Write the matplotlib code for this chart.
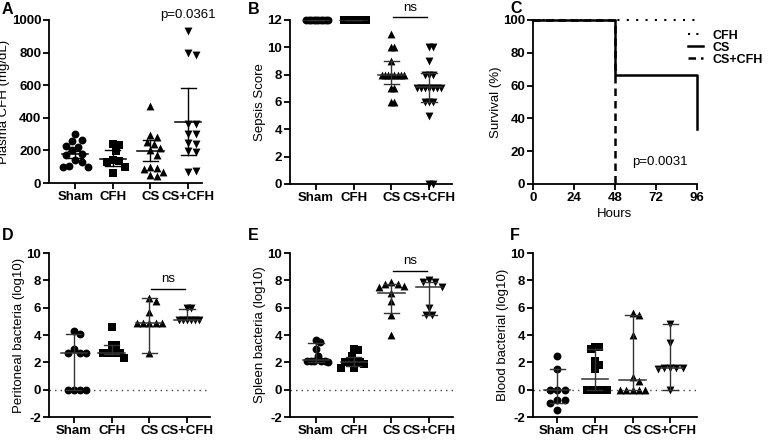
import numpy as np
import matplotlib
matplotlib.use('Agg')
import matplotlib.pyplot as plt
from matplotlib.lines import Line2D

plt.rcParams['font.family'] = ['Liberation Sans', 'DejaVu Sans']
plt.rcParams['font.weight'] = 'bold'
plt.rcParams['font.size'] = 9
plt.rcParams['axes.unicode_minus'] = False

groups = ['Sham', 'CFH', 'CS', 'CS+CFH']
markers = ['o', 's', '^', 'v']

# A - plasma CFH (mg/dL)
cfh_vals = [
    [300, 265, 255, 230, 220, 200, 180, 170, 140, 130, 105, 100, 100],
    [240, 235, 195, 140, 135, 130, 100, 60],
    [475, 295, 285, 250, 240, 215, 200, 170, 100, 95, 85, 70, 50, 45],
    [935, 800, 785, 365, 365, 300, 300, 245, 240, 195, 190, 70, 75],
]
cfh_center = [175, 150, 198, 375]
cfh_low = [155, 105, 135, 170]
cfh_high = [195, 200, 265, 580]

# B - sepsis score
sepsis_vals = [
    [12] * 10,
    [12] * 10,
    [11, 10, 10, 9, 8, 8, 8, 8, 8, 8, 8, 8, 7, 7, 6, 6],
    [10, 10, 9, 8, 8, 8, 7, 7, 7, 7, 7, 7, 7, 6, 6, 6, 5, 0, 0],
]
sepsis_center = [12, 12, 8, 7.1]
sepsis_low = [12, 12, 7.3, 6.0]
sepsis_high = [12, 12, 9.0, 8.1]

# C - survival
hours = [0, 48, 96]
surv_cfh = [100, 100, 100]
surv_cs = [100, 66.7, 33.3]
hours_cscfh = [0, 48]
surv_cscfh = [100, 0]

# D - peritoneal bacteria (log10)
perit_vals = [
    [4.3, 4.1, 3.0, 2.7, 2.7, 2.7, 0, 0, 0, 0],
    [4.6, 3.3, 3.3, 2.7, 2.7, 2.7, 2.7, 2.7, 2.3],
    [6.7, 6.5, 5.7, 4.9, 4.9, 4.9, 4.9, 4.9, 2.7],
    [6.0, 6.0, 5.1, 5.1, 5.1, 5.1, 5.1, 5.1],
]
perit_center = [2.7, 2.7, 4.9, 5.1]
perit_low = [0, 2.6, 2.7, 5.1]
perit_high = [4.1, 3.3, 6.7, 5.9]

# E - spleen bacteria (log10)
spleen_vals = [
    [3.6, 3.5, 3.0, 2.5, 2.1, 2.1, 2.1, 2.1, 2.1, 2.0],
    [3.0, 2.9, 2.5, 2.1, 2.0, 2.0, 2.0, 1.9, 1.6, 1.6],
    [7.9, 7.7, 7.7, 7.6, 7.5, 7.1, 6.5, 5.5, 4.0],
    [8.0, 7.9, 7.9, 7.5, 6.0, 5.5, 5.5],
]
spleen_center = [2.2, 2.0, 7.1, 7.5]
spleen_low = [2.0, 1.7, 5.6, 5.5]
spleen_high = [3.4, 2.4, 7.7, 7.9]

# F - blood bacteria (log10)
blood_vals = [
    [2.5, 1.5, 0, 0, 0, -0.75, -0.75, -1.0, -1.5],
    [3.1, 3.1, 3.0, 2.1, 1.8, 1.5, 0, 0, 0, 0, 0, 0],
    [5.6, 5.5, 4.0, 0.9, 0.6, 0, 0, 0, 0, 0],
    [4.8, 3.4, 1.6, 1.6, 1.6, 1.6, 1.5, 0],
]
blood_center = [0, 0.75, 0.7, 1.6]
blood_low = [-1.0, 0, 0, 0]
blood_high = [1.5, 3.0, 5.5, 4.8]

W, H = 770, 441
fig = plt.figure(figsize=(W / 100, H / 100), dpi=100)


def add_ax(l, r, t, b):
    return fig.add_axes([l / W, (H - b) / H, (r - l) / W, (b - t) / H])


def style(ax):
    for s in ['top', 'right']:
        ax.spines[s].set_visible(False)
    for s in ['left', 'bottom']:
        ax.spines[s].set_linewidth(1.3)
    ax.tick_params(width=1.3, length=4, labelsize=9.5, pad=1.5)


def swarm(ax, xc, vals, d_px=7.5, max_half=0.33):
    tr = ax.transData
    ppu = tr.transform((1, 0))[0] - tr.transform((0, 0))[0]
    x0p = tr.transform((xc, 0))[0]
    placed = []
    for v in vals:
        yp = tr.transform((xc, v))[1]
        xp = x0p
        for k in range(80):
            cands = [0] if k == 0 else [k, -k]
            found = False
            for c in cands:
                xp = x0p + c * d_px * 0.5
                if all((xp - px) ** 2 + (yp - py) ** 2 >= d_px ** 2 for px, py in placed):
                    found = True
                    break
            if found:
                break
        placed.append((xp, yp))
    off = np.array([p[0] - x0p for p in placed])
    lim = max_half * ppu
    m = np.abs(off).max() if len(off) else 0
    if m > lim:
        off = off * lim / m
    return xc + off / ppu


def dot_panel(ax, vals, center, low, high, ylim, yticks, ylabel, xlim, lc='#333333'):
    style(ax)
    ax.set_xlim(*xlim)
    ax.set_ylim(*ylim)
    ax.set_yticks(yticks)
    ax.set_xticks(range(4))
    ax.set_xticklabels(groups)
    ax.set_ylabel(ylabel, fontsize=9.5, labelpad=1)
    for i, v in enumerate(vals):
        xs = swarm(ax, i, v)
        ax.scatter(xs, v, marker=markers[i], s=32, color='black', zorder=2,
                   clip_on=False, linewidths=0)
        ax.plot([i - 0.35, i + 0.35], [center[i]] * 2, color=lc, lw=1.1, zorder=3)
        ax.plot([i, i], [low[i], high[i]], color=lc, lw=1, zorder=3)
        ax.plot([i - 0.2, i + 0.2], [low[i]] * 2, color=lc, lw=1, zorder=3)
        ax.plot([i - 0.2, i + 0.2], [high[i]] * 2, color=lc, lw=1, zorder=3)


def ns_bar(ax, y, ty):
    ax.plot([2.05, 2.95], [y, y], color='black', lw=1, clip_on=False)
    ax.text(2.5, ty, 'ns', ha='center', va='center', fontsize=9.5,
            fontweight='normal', clip_on=False)


# A
axA = add_ax(49, 202, 20, 183)
dot_panel(axA, cfh_vals, cfh_center, cfh_low, cfh_high, (0, 1000),
          range(0, 1001, 200), 'Plasma CFH (mg/dL)', (-0.7, 3.37), lc='black')
axA.text(3, 1030, 'p=0.0361', ha='center', va='center', fontsize=9.5,
         fontweight='normal', clip_on=False)

# B
axB = add_ax(290, 452, 20, 184)
dot_panel(axB, sepsis_vals, sepsis_center, sepsis_low, sepsis_high, (0, 12),
          range(0, 13, 2), 'Sepsis Score', (-0.69, 3.61))
ns_bar(axB, 12.2, 12.85)

# C
axC = add_ax(533, 697, 20, 184)
style(axC)
axC.set_xlim(0, 96)
axC.set_ylim(0, 100)
axC.set_xticks([0, 24, 48, 72, 96])
axC.set_yticks(range(0, 101, 20))
axC.step(hours, surv_cfh, where='post', color='black', lw=1.5,
         ls=(0, (1, 3.5)), clip_on=False)
axC.step(hours_cscfh, surv_cscfh, where='post', color='black', lw=1.8,
         ls=(0, (3, 2)), clip_on=False)
axC.step(hours, surv_cs, where='post', color='black', lw=1.8,
         clip_on=False, zorder=3)
axC.set_xlabel('Hours', fontsize=9.5, labelpad=3)
axC.set_ylabel('Survival (%)', fontsize=9.5, labelpad=1)
axC.text(58, 13.5, 'p=0.0031', ha='left', va='center', fontsize=9.5,
         fontweight='normal')
handles = [Line2D([], [], color='black', lw=1.5, ls=(0, (1, 3))),
           Line2D([], [], color='black', lw=1.8),
           Line2D([], [], color='black', lw=1.8, ls=(0, (3, 2)))]
axC.legend(handles, ['CFH', 'CS', 'CS+CFH'], loc='upper left',
           bbox_to_anchor=(0.945, 0.94), frameon=False, fontsize=9,
           handlelength=1.2, handletextpad=0.8, labelspacing=0.0,
           borderaxespad=0, borderpad=0)

# D
axD = add_ax(49, 210, 253, 417)
axD.axhline(0, color='#444444', lw=1, ls=(0, (1, 3)), zorder=1)
dot_panel(axD, perit_vals, perit_center, perit_low, perit_high, (-2, 10),
          range(-2, 11, 2), 'Peritoneal bacteria (log10)', (-0.66, 3.61))
ns_bar(axD, 7.4, 8.1)

# E
axE = add_ax(290, 453, 253, 417)
axE.axhline(0, color='#444444', lw=1, ls=(0, (1, 3)), zorder=1)
dot_panel(axE, spleen_vals, spleen_center, spleen_low, spleen_high, (-2, 10),
          range(-2, 11, 2), 'Spleen bacteria (log10)', (-0.69, 3.63))
ns_bar(axE, 8.7, 9.4)

# F
axF = add_ax(533, 697, 253, 417)
axF.axhline(0, color='#444444', lw=1, ls=(0, (1, 3)), zorder=1)
dot_panel(axF, blood_vals, blood_center, blood_low, blood_high, (-2, 10),
          range(-2, 11, 2), 'Blood bacterial (log10)', (-0.64, 3.71))

for lab, x, y in [('A', 2, 2), ('B', 248, 2), ('C', 510, 1),
                  ('D', 2, 228), ('E', 248, 228), ('F', 510, 228)]:
    fig.text(x / W, 1 - y / H, lab, fontsize=11.5, fontweight='bold',
             ha='left', va='top')

fig.savefig('out.png', dpi=100)
